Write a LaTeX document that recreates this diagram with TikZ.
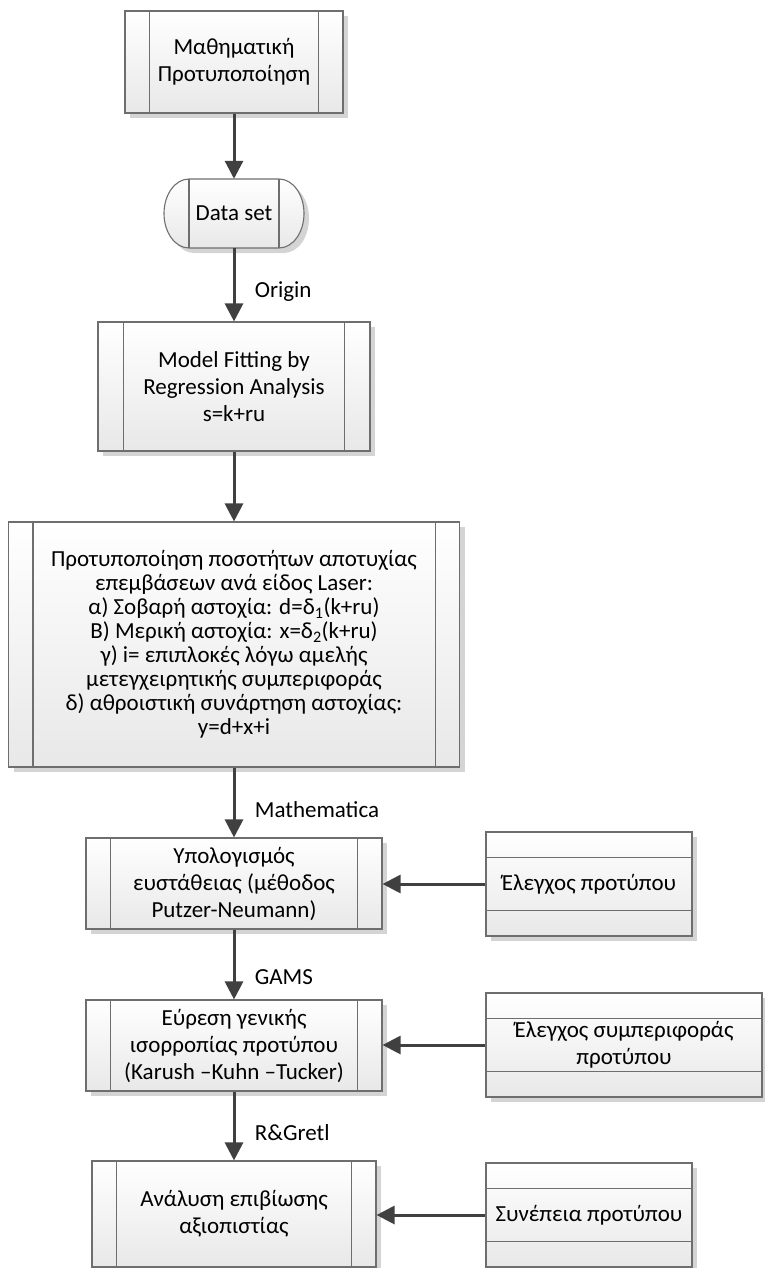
\documentclass[tikz,border=0pt]{standalone}
\usepackage{fontspec}
\setmainfont{Carlito}
\usetikzlibrary{arrows.meta, positioning, shadows, calc}

\definecolor{edgegray}{HTML}{6E6E6E}
\definecolor{arrowgray}{HTML}{404040}
\definecolor{shadegray}{HTML}{D4D4D4}
\definecolor{fillbottom}{HTML}{E8E8E8}

\tikzset{
  shapefill/.style={draw=edgegray, line width=1.1pt, top color=white, bottom color=fillbottom,
    drop shadow={shadow xshift=5pt, shadow yshift=-5pt, fill=shadegray, opacity=1}},
  boxbase/.style={shapefill, align=center, inner sep=0pt, font=\fontsize{23}{27}\selectfont},
  flowarrow/.style={draw=arrowgray, line width=3pt, -{Triangle[length=18pt, width=18pt]}},
  toollabel/.style={right=16pt, font=\fontsize{23}{27}\selectfont},
}

% inner side lines of a process box
\newcommand{\procsides}[2]{%
  \draw[edgegray, line width=1.1pt] ([xshift=#2]#1.north west) -- ([xshift=#2]#1.south west)
    ([xshift=-#2]#1.north east) -- ([xshift=-#2]#1.south east);}
% compartment lines of a side box
\newcommand{\compsides}[2]{%
  \draw[edgegray, line width=1.1pt] ([yshift=-#2]#1.north west) -- ([yshift=-#2]#1.north east)
    ([yshift=#2]#1.south west) -- ([yshift=#2]#1.south east);}

\begin{document}
\begin{tikzpicture}[x=1pt, y=-1pt]
  \useasboundingbox (0,0) rectangle (764,1268);

  % main column
  \node[boxbase, minimum width=218pt, minimum height=102pt] (math) at (234,62) {Μαθηματική\\Προτυποποίηση};
  \procsides{math}{25pt}

  % terminator
  \draw[shapefill] (189,179) -- (279,179)
    arc[start angle=-90, end angle=90, x radius=25, y radius=34.5] -- (189,248)
    arc[start angle=90, end angle=270, x radius=25, y radius=34.5] -- cycle;
  \draw[edgegray, line width=1.1pt] (189,179) -- (189,248) (279,179) -- (279,248);
  \node[minimum width=140pt, minimum height=69pt, inner sep=0pt, font=\fontsize{23}{27}\selectfont] (data) at (234,213.5) {Data set};

  \node[boxbase, minimum width=272pt, minimum height=129pt] (model) at (234,386.5) {Model Fitting by\\Regression Analysis\\s=k+ru};
  \procsides{model}{26pt}

  \node[boxbase, minimum width=451pt, minimum height=245pt, font=\fontsize{23}{24}\selectfont] (failure) at (234,644.5)
    {Προτυποποίηση ποσοτήτων αποτυχίας\\επεμβάσεων ανά είδος Laser:\\α) Σοβαρή αστοχία: d=δ\textsubscript{1}(k+ru)\\Β) Μερική αστοχία: x=δ\textsubscript{2}(k+ru)\\γ) i= επιπλοκές λόγω αμελής\\μετεγχειρητικής συμπεριφοράς\\δ) αθροιστική συνάρτηση αστοχίας:\\y=d+x+i};
  \procsides{failure}{25pt}

  \node[boxbase, minimum width=296pt, minimum height=91pt] (stability) at (234,883.5) {Υπολογισμός\\ευστάθειας (μέθοδος\\Putzer-Neumann)};
  \procsides{stability}{25pt}

  \node[boxbase, minimum width=296pt, minimum height=91pt] (equilibrium) at (234,1045.5) {Εύρεση γενικής\\ισορροπίας προτύπου\\(Karush –Kuhn –Tucker)};
  \procsides{equilibrium}{25pt}

  \node[boxbase, minimum width=284pt, minimum height=106pt] (survival) at (234,1214) {Ανάλυση επιβίωσης\\αξιοπιστίας};
  \procsides{survival}{25pt}

  % side checks
  \node[boxbase, minimum width=206pt, minimum height=104pt] (modelcheck) at (589,884) {Έλεγχος προτύπου};
  \compsides{modelcheck}{26pt}

  \node[boxbase, minimum width=276pt, minimum height=104pt] (behaviour) at (624,1045) {Έλεγχος συμπεριφοράς\\προτύπου};
  \compsides{behaviour}{26pt}

  \node[boxbase, minimum width=206pt, minimum height=104pt] (consistency) at (589,1215) {Συνέπεια προτύπου};
  \compsides{consistency}{26pt}

  % connectors
  \draw[flowarrow] (math) -- (data);
  \draw[flowarrow] (data) -- node[toollabel, pos=0.59] (lblorigin) {Origin} (model);
  \draw[flowarrow] (model) -- (failure);
  \draw[flowarrow] (failure) -- node[toollabel, pos=0.6] (lblmathematica) {Mathematica} (stability);
  \draw[flowarrow] (stability) -- node[toollabel, pos=0.68] (lblgams) {GAMS} (equilibrium);
  \draw[flowarrow] (equilibrium) -- node[toollabel, pos=0.59] (lblgretl) {R\&Gretl} (survival);

  \draw[flowarrow] (modelcheck) -- (modelcheck.west -| stability.east);
  \draw[flowarrow] (behaviour) -- (behaviour.west -| equilibrium.east);
  \draw[flowarrow] (consistency) -- (consistency.west -| survival.east);
\end{tikzpicture}
\end{document}
